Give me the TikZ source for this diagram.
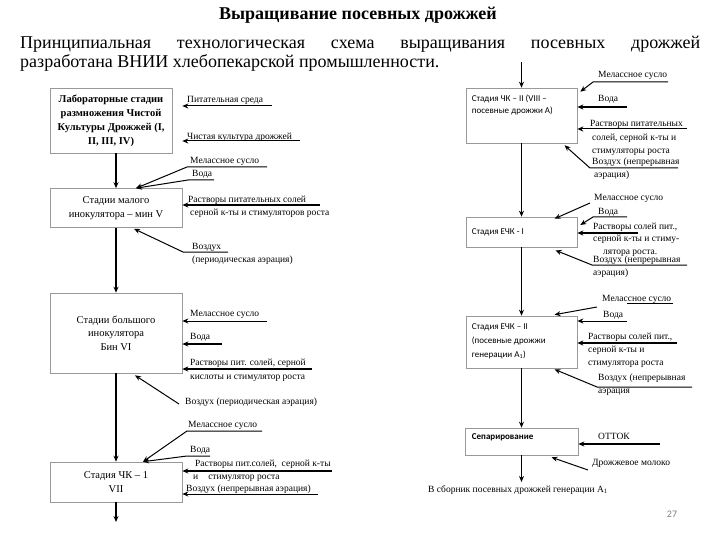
\documentclass[tikz,border=0pt]{standalone}
\usepackage{fontspec}
\setmainfont{Liberation Serif}
\newfontfamily\calfont{Carlito}
\usepackage{tikz}
\usetikzlibrary{arrows.meta, positioning, calc}

\tikzstyle{stage} = [rectangle, draw=gray!80, line width=0.6pt, align=center, inner sep=2pt, font=\fontsize{10.5}{14.5}\selectfont]
\tikzstyle{ekstage} = [rectangle, draw=gray!80, line width=0.6pt, minimum width=111pt]
\tikzstyle{stagetext} = [inner sep=0pt, align=left, font=\calfont\fontsize{9}{12.5}\selectfont]
\tikzstyle{feedtext} = [anchor=north west, inner sep=0pt, align=left, font=\fontsize{9.5}{13}\selectfont]
\tikzstyle{flow} = [line width=1.6pt, -{Stealth[length=6pt, width=5pt]}]
\tikzstyle{feed} = [line width=1pt, -{Stealth[length=6pt, width=5pt]}]
\tikzstyle{heavyfeed} = [line width=1.8pt, -{Stealth[length=6pt, width=5pt]}]
\tikzstyle{uline} = [line width=1pt]

\begin{document}
\begin{tikzpicture}[x=1pt, y=-1pt]
    \useasboundingbox (0,0) rectangle (720,540);

    % Heading
    \node[anchor=base, inner sep=0pt, font=\fontsize{18}{20}\selectfont\bfseries] (title) at (358,20) {Выращивание посевных дрожжей};
    \node[anchor=base west, inner sep=0pt, font=\fontsize{18}{20}\selectfont] (intro1) at (20,49) {\makebox[680pt][s]{Принципиальная технологическая схема выращивания посевных дрожжей}};
    \node[anchor=base west, inner sep=0pt, font=\fontsize{18}{20}\selectfont] (intro2) at (20,68) {разработана ВНИИ хлебопекарской промышленности.};

    % Left stages
    \node[stage, minimum width=122pt, minimum height=65pt, font=\fontsize{10.5}{14}\selectfont\bfseries] (lab) at (111,120.5) {Лабораторные стадии\\размножения Чистой\\Культуры Дрожжей (I,\\II, III, IV)};
    \node[stage, minimum width=132pt, minimum height=39pt] (mal) at (116,208) {Стадии малого\\инокулятора – мин V};
    \node[stage, minimum width=132pt, minimum height=80pt, font=\fontsize{10.5}{13.5}\selectfont] (big) at (116,333) {Стадии большого\\инокулятора\\Бин VI};
    \node[stage, minimum width=132pt, minimum height=40pt] (chk1) at (116,482) {Стадия ЧК – 1\\VII};

    % Right stages
    \node[ekstage, minimum height=55pt] (ck2) at (521.5,115.5) {};
    \node[ekstage, minimum height=30pt] (ech1) at (521.5,232) {};
    \node[ekstage, minimum height=52pt] (ech2) at (521.5,342) {};
    \node[ekstage, minimum height=27pt, minimum width=113pt] (sep) at (521.5,441.5) {};
    \node[stagetext, below right=7pt and 6pt of ck2.north west] (ck2t) {Стадия ЧК – II (VIII –\\посевные дрожжи А)};
    \node[stagetext, below right=12pt and 6pt of ech1.north west] (ech1t) {Стадия ЕЧК - I};
    \node[stagetext, below right=8pt and 6pt of ech2.north west, font=\calfont\fontsize{9}{14}\selectfont] (ech2t) {Стадия ЕЧК – II\\(посевные дрожжи\\генерации А\textsubscript{1})};
    \node[stagetext, below right=6pt and 7pt of sep.north west, font=\calfont\fontsize{9}{12}\selectfont\bfseries] (sept) {Сепарирование};

    % Main flow
    \coordinate (leftout) at (116,522);
    \coordinate (righttop) at (521.5,62);
    \coordinate (rightout) at (521.5,482);
    \draw[flow] (lab.south -| mal.north) -- (mal.north);
    \draw[flow] (mal.south) -- (big.north);
    \draw[flow] (big.south) -- (chk1.north);
    \draw[flow] (chk1.south) -- (leftout);
    \draw[flow] (righttop) -- (ck2.north);
    \draw[flow] (ck2.south) -- (ech1.north);
    \draw[flow] (ech1.south) -- (ech2.north);
    \draw[flow] (ech2.south) -- (sep.north);
    \draw[flow] (sep.south) -- (rightout);

    % Feed labels, left
    \node[feedtext] (pit) at (187,96.5) {Питательная среда};
    \node[feedtext] (chist) at (187,132.5) {Чистая культура дрожжей};
    \node[feedtext] (mel1) at (190,157.5) {Мелассное сусло};
    \node[feedtext] (voda1) at (192,170.5) {Вода};
    \node[feedtext] (rast1) at (188,195.5) {Растворы питательных солей\\\hspace*{2pt}серной к-ты и стимуляторов роста};
    \node[feedtext, font=\fontsize{9.5}{12.5}\selectfont] (voz1) at (192,243.5) {Воздух\\(периодическая аэрация)};
    \node[feedtext] (mel2) at (190,310.5) {Мелассное сусло};
    \node[feedtext] (voda2) at (190,333.5) {Вода};
    \node[feedtext, font=\fontsize{9.5}{14}\selectfont] (rast2) at (190,358.5) {Растворы пит. солей, серной\\кислоты и стимулятор роста};
    \node[feedtext] (voz2) at (185,397.5) {Воздух (периодическая аэрация)};
    \node[feedtext] (mel3) at (188,421.5) {Мелассное сусло};
    \node[feedtext] (voda3) at (190,446.5) {Вода};
    \node[feedtext] (rast3) at (193,459.5) {\hspace*{2pt}Растворы пит.солей,\ \ серной к-ты\\и\hspace{10pt}стимулятор роста};
    \node[feedtext] (voz3) at (186,484.5) {Воздух (непрерывная аэрация)};

    % Feed labels, right
    \node[feedtext] (mel4) at (598,71.5) {Мелассное сусло};
    \node[feedtext] (voda4) at (598,95.5) {Вода};
    \node[feedtext, font=\fontsize{9.5}{13.5}\selectfont] (rast4) at (590,120.5) {Растворы питательных\\\hspace*{2pt}солей, серной к-ты и\\\hspace*{2pt}стимуляторы роста};
    \node[feedtext] (voz4) at (592,157.5) {Воздух (непрерывная\\\hspace*{2pt}аэрация)};
    \node[feedtext] (mel5) at (594,194.5) {Мелассное сусло};
    \node[feedtext] (voda5) at (598,208.5) {Вода};
    \node[feedtext, font=\fontsize{9.5}{12.5}\selectfont] (rast5) at (593,222.5) {Растворы солей пит.,\\серной к-ты и стиму-\\\hspace*{10pt}лятора роста.};
    \node[feedtext] (voz5) at (593,255.5) {Воздух (непрерывная\\аэрация)};
    \node[feedtext] (mel6) at (602,295.5) {Мелассное сусло};
    \node[feedtext] (voda6) at (603,311.5) {Вода};
    \node[feedtext] (rast6) at (588,332.5) {Растворы солей пит.,\\серной к-ты и\\стимулятора роста};
    \node[feedtext] (voz6) at (598,373.5) {Воздух (непрерывная\\аэрация};
    \node[feedtext] (ottok) at (598,433.5) {ОТТОК};
    \node[feedtext] (mol) at (592,459.5) {Дрожжевое молоко};
    \node[feedtext] (sbor) at (428,485.5) {В сборник посевных дрожжей генерации А\textsubscript{1}};

    % Feed arrows, left
    \coordinate (pitA) at (272,106);
    \coordinate (chistA) at (300,141);
    \coordinate (mel1A) at (267,167);
    \coordinate (mel1B) at (187,167);
    \coordinate (voda1A) at (214,180);
    \coordinate (voda1B) at (188,180);
    \coordinate (rast1A) at (320,205);
    \coordinate (voz1A) at (228,252);
    \coordinate (voz1B) at (183,252);
    \draw[feed, shorten >=10pt] (pitA) -- (pitA -| lab.east);
    \draw[feed, shorten >=10pt] (chistA) -- (chistA -| lab.east);
    \draw[feed] (mel1A) -- (mel1B) -- ($(mal.north)+(20,0)$);
    \draw[feed] (voda1A) -- (voda1B) -- ($(mal.north)+(20,0)$);
    \draw[heavyfeed] (rast1A) -- (rast1A -| mal.east);
    \draw[feed] (voz1A) -- (voz1B) -- ($(mal.south)+(18,1)$);

    \coordinate (mel2A) at (267,321);
    \coordinate (voda2A) at (222,344);
    \coordinate (rast2A) at (312,369);
    \coordinate (voz2A) at (179,404);
    \draw[feed] (mel2A) -- (mel2A -| big.east);
    \draw[heavyfeed] (voda2A) -- (voda2A -| big.east);
    \draw[heavyfeed] (rast2A) -- (rast2A -| big.east);
    \draw[feed] (voz2A) -- ($(big.south)+(19,2)$);

    \coordinate (mel3A) at (262,431);
    \coordinate (mel3B) at (187,431);
    \coordinate (voda3A) at (210,456);
    \coordinate (voda3B) at (187,456);
    \coordinate (rast3A) at (332,471);
    \coordinate (voz3A) at (318,494);
    \draw[feed] (mel3A) -- (mel3B) -- ($(chk1.north)+(27,0)$);
    \draw[feed] (voda3A) -- (voda3B) -- ($(chk1.north)+(27,0)$);
    \draw[heavyfeed] (rast3A) -- (rast3A -| chk1.east);
    \draw[feed] (voz3A) -- (voz3A -| chk1.east);

    % Feed arrows, right
    \coordinate (mel4A) at (668,82);
    \coordinate (mel4B) at (593,82);
    \coordinate (voda4A) at (627,107);
    \coordinate (rast4A) at (687,129);
    \coordinate (voz4A) at (678,168);
    \coordinate (voz4B) at (590,168);
    \draw[feed] (mel4A) -- (mel4B) -- ($(ck2.north east)+(3,4)$);
    \draw[heavyfeed] (voda4A) -- (voda4A -| ck2.east);
    \draw[feed] (rast4A) -- (rast4A -| ck2.east);
    \draw[feed] (voz4A) -- (voz4B) -- ($(ck2.south)+(43,2)$);

    \coordinate (mel5A) at (590,203);
    \coordinate (voda5A) at (627,217);
    \coordinate (voda5B) at (593,217);
    \coordinate (rast5A) at (638,233);
    \coordinate (voz5A) at (687,265);
    \coordinate (voz5B) at (592,265);
    \draw[feed] (mel5A) -- ($(ech1.north)+(33,2)$);
    \draw[feed] (voda5A) -- (voda5B) -- ($(ech1.east)+(3,-7)$);
    \draw[heavyfeed] (rast5A) -- (rast5A -| ech1.east);
    \draw[feed] (voz5A) -- (voz5B) -- ($(ech1.south)+(34,3)$);

    \coordinate (mel6U) at (627,303);
    \coordinate (mel6V) at (673,303);
    \coordinate (mel6A) at (597,307);
    \coordinate (voda6A) at (627,321);
    \coordinate (rast6A) at (677,343);
    \coordinate (voz6A) at (692,387);
    \coordinate (voz6B) at (597,387);
    \draw[uline] (mel6U) -- (mel6V);
    \draw[feed] (mel6A) -- ($(ech2.north)+(33,-1)$);
    \draw[feed] (voda6A) -- (voda6A -| ech2.east);
    \draw[heavyfeed] (rast6A) -- (rast6A -| ech2.east);
    \draw[feed] (voz6A) -- (voz6B) -- ($(ech2.south)+(33,1)$);

    \coordinate (ottokA) at (660,444);
    \coordinate (molA) at (588,470);
    \draw[heavyfeed] (ottokA) -- (ottokA -| sep.east);
    \draw[feed] (molA) -- ($(sep.south)+(30,2)$);

    % Page number
    \node[text=gray, font=\calfont\fontsize{10}{12}\selectfont] (pagenum) at (672,514) {27};

\end{tikzpicture}
\end{document}
